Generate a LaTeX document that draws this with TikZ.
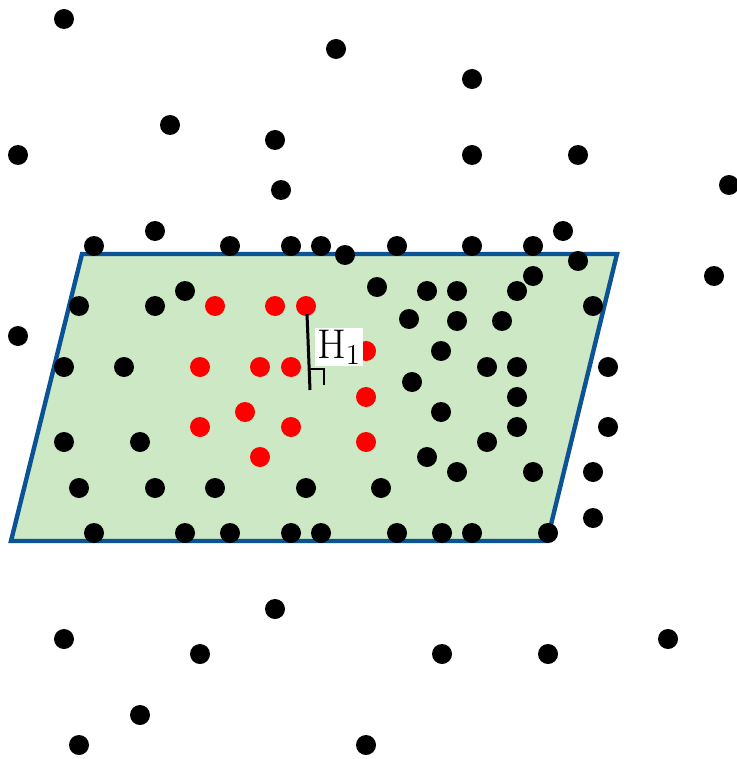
\documentclass[tikz,border=0pt]{standalone}
\usepackage{xcolor}
\usepackage{tikz}
\definecolor{PlaneBlue}{HTML}{0B5394}
\definecolor{PlaneGreen}{HTML}{CCE8C4}
\definecolor{HitRed}{HTML}{FF0000}

\begin{document}
\begin{tikzpicture}[x=0.5pt, y=-0.5pt,
    dotblack/.style={fill=black},
    dotred/.style={fill=HitRed}]
  \useasboundingbox (0,0) rectangle (737,759);
  % the plane
  \filldraw[fill=PlaneGreen, draw=PlaneBlue, line width=2.2pt]
    (82,254) -- (617,254) -- (547,541) -- (11,541) -- cycle;
  % points off the hit
  \foreach \px/\py in {64/19, 336/49, 472/79, 170/125, 275/140, 18/155, 472/155,
      578/155, 729/185, 281/190, 155/231, 563/231,
      94/246, 230/246, 291/246, 321/246, 345/255, 397/246, 472/246, 533/246,
      578/261, 714/276, 533/276,
      185/291, 377/287, 427/291, 457/291, 517/291, 79/306, 155/306, 593/306,
      18/336, 409/319, 457/321, 502/321, 441/351, 64/367, 124/367, 487/367,
      517/367, 608/367, 412/382, 517/397, 441/412, 64/442, 140/442, 487/442,
      517/427, 608/427, 427/457, 457/472, 533/472, 593/472, 79/488, 155/488,
      215/488, 306/488, 381/488, 593/518,
      94/533, 185/533, 230/533, 291/533, 321/533, 397/533, 442/533, 472/533, 548/533,
      275/609, 64/639, 668/639, 200/654, 442/654, 548/654, 140/715, 79/745, 366/745}
    \fill[dotblack] (\px,\py) circle (10);
  % points of the hit
  \foreach \px/\py in {215/306, 275/306, 306/306, 366/351, 200/367, 260/367,
      291/367, 366/397, 245/412, 200/427, 291/427, 366/442, 260/457}
    \fill[dotred] (\px,\py) circle (10);
  % height marker
  \coordinate (hTop) at (307,314);
  \coordinate (hBot) at (310,390);
  \draw[line width=1.5pt] (hTop) -- (hBot);
  \draw[line width=1pt] (310,369) -- (324,369) -- (324,385);
  \node[fill=white, inner sep=0pt, minimum width=24pt, minimum height=19pt,
        text height=14pt, text depth=3pt, font=\fontsize{21}{25}\selectfont]
    (hLabel) at (339,347) {$\mathrm{H}_{1}$};
\end{tikzpicture}
\end{document}
